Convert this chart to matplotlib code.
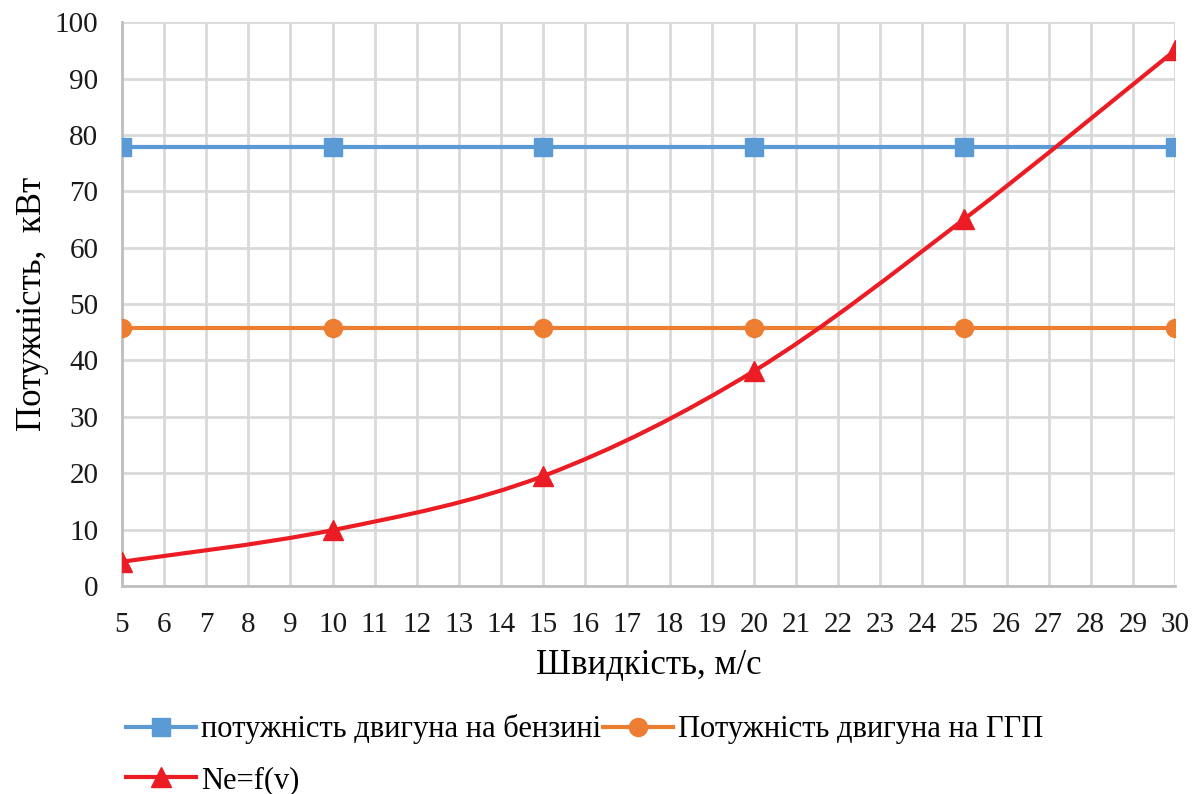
import matplotlib.pyplot as plt
import numpy as np
from matplotlib.path import Path
from matplotlib.patches import PathPatch
from matplotlib.lines import Line2D

plt.rcParams["font.family"] = ["Liberation Serif", "DejaVu Serif"]

# data
speed = [5, 10, 15, 20, 25, 30]
petrol_power = [77.8, 77.8, 77.8, 77.8, 77.8, 77.8]
lpg_power = [45.7, 45.7, 45.7, 45.7, 45.7, 45.7]
ne_power = [4.3, 9.9, 19.5, 38.1, 65.1, 95.0]

labels = ["потужність двигуна на бензині", "Потужність двигуна на ГГП", "Ne=f(v)"]
colors = ["#5b9bd5", "#ed7d31", "#ec1c24"]


def smooth_path(xs, ys):
    """Excel-style smoothed line: cubic Bezier segments through the points."""
    pts = np.column_stack([xs, ys]).astype(float)
    n = len(pts)
    verts = [pts[0]]
    codes = [Path.MOVETO]
    for i in range(n - 1):
        p0 = pts[max(i - 1, 0)]
        p1 = pts[i]
        p2 = pts[i + 1]
        p3 = pts[min(i + 2, n - 1)]
        c1 = p1 + (p2 - p0) / 6
        c2 = p2 - (p3 - p1) / 6
        verts += [c1, c2, p2]
        codes += [Path.CURVE4] * 3
    return Path(verts, codes)


fig = plt.figure(figsize=(11.98, 7.94), dpi=100)
ax = fig.add_axes([0.1018, 0.262, 0.879, 0.710])

ax.plot(speed, petrol_power, color=colors[0], lw=3, marker="s", ms=13, zorder=3)
ax.plot(speed, lpg_power, color=colors[1], lw=3, marker="o", ms=13, zorder=3)
ax.add_patch(PathPatch(smooth_path(speed, ne_power), facecolor="none",
                       edgecolor=colors[2], lw=3, zorder=4))
ax.plot(speed, ne_power, color=colors[2], lw=0, marker="^", ms=14, zorder=5)

ax.set_xlim(5, 30)
ax.set_ylim(0, 100)
ax.set_xticks(range(5, 31))
ax.set_yticks(range(0, 101, 10))
ax.grid(True, color="#d9d9d9", lw=2)
ax.set_axisbelow(True)
ax.tick_params(length=0, labelsize=21, colors="#1a1a1a")
ax.tick_params(axis="x", pad=19)
ax.tick_params(axis="y", pad=17)
for side in ["top", "right"]:
    ax.spines[side].set_visible(False)
for side in ["left", "bottom"]:
    ax.spines[side].set_color("#bfbfbf")
    ax.spines[side].set_linewidth(2)

ax.set_xlabel("Швидкість, м/с", fontsize=25, labelpad=8)
ax.set_ylabel("Потужність,  кВт", fontsize=25, labelpad=4)

handles = [
    Line2D([], [], color=colors[0], lw=3, marker="s", ms=13),
    Line2D([], [], color=colors[1], lw=3, marker="o", ms=13),
    Line2D([], [], color=colors[2], lw=3, marker="^", ms=14),
]
# matplotlib fills legend columns first, so reorder to get row-wise layout
order = [0, 2, 1]
fig.legend([handles[i] for i in order], [labels[i] for i in order],
           loc="lower left", bbox_to_anchor=(0.090, -0.024),
           ncol=2, frameon=False, fontsize=22, handlelength=2.3,
           handletextpad=0.15, columnspacing=0.05, labelspacing=0.7,
           borderpad=0.1)

fig.savefig("out.png", dpi=100)
